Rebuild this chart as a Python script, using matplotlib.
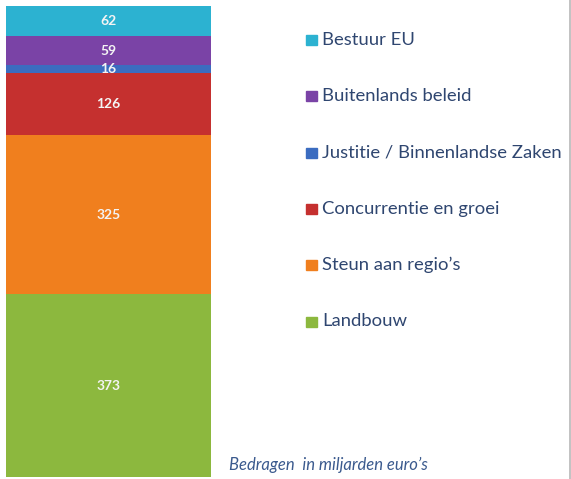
import matplotlib.pyplot as plt
from matplotlib.patches import Rectangle

# Values in billions of euros, stacked bottom to top
categories = ['Landbouw', 'Steun aan regio\u2019s', 'Concurrentie en groei',
              'Justitie / Binnenlandse Zaken', 'Buitenlands beleid', 'Bestuur EU']
values = [373, 325, 126, 16, 59, 62]
colors = ['#8cb83e', '#f07f1e', '#c5302f', '#3b6cc0', '#7a43a6', '#2cb2d1']
note = 'Bedragen  in miljarden euro\u2019s'

W, H = 571, 479
fig = plt.figure(figsize=(W / 100, H / 100), dpi=100)
fig.patch.set_facecolor('white')

ax = fig.add_axes([6 / W, 2 / H, 205 / W, 471 / H])
bottom = 0
for val, col in zip(values, colors):
    ax.bar(0, val, width=1.0, bottom=bottom, color=col, edgecolor='none')
    ax.text(0, bottom + val / 2, str(val), ha='center', va='center',
            color='#f4f4f4', fontsize=10, fontweight='bold', family='Lato')
    bottom += val
ax.set_xlim(-0.5, 0.5)
ax.set_ylim(0, sum(values))
ax.axis('off')

# legend, top entry first
txt_col = '#2f4670'
for i, (lab, col) in enumerate(zip(categories[::-1], colors[::-1])):
    yc = 1 - (40 + 56.3 * i) / H
    fig.add_artist(Rectangle((306 / W, yc - 5 / H), 11 / W, 10 / H,
                             transform=fig.transFigure, color=col))
    fig.text(322 / W, yc, lab, ha='left', va='center', fontsize=13.3,
             color=txt_col, family='Lato')

fig.text(229 / W, 1 - 465 / H, note, ha='left', va='center', fontsize=12,
         color='#3b5a8e', style='italic', family='Lato')

# thin frame line on the right edge
fig.add_artist(plt.Line2D([569.5 / W, 569.5 / W], [0, 1],
                          transform=fig.transFigure, color='#b8b8b8', lw=1.2))

fig.savefig('out.png', dpi=100, facecolor='white')
